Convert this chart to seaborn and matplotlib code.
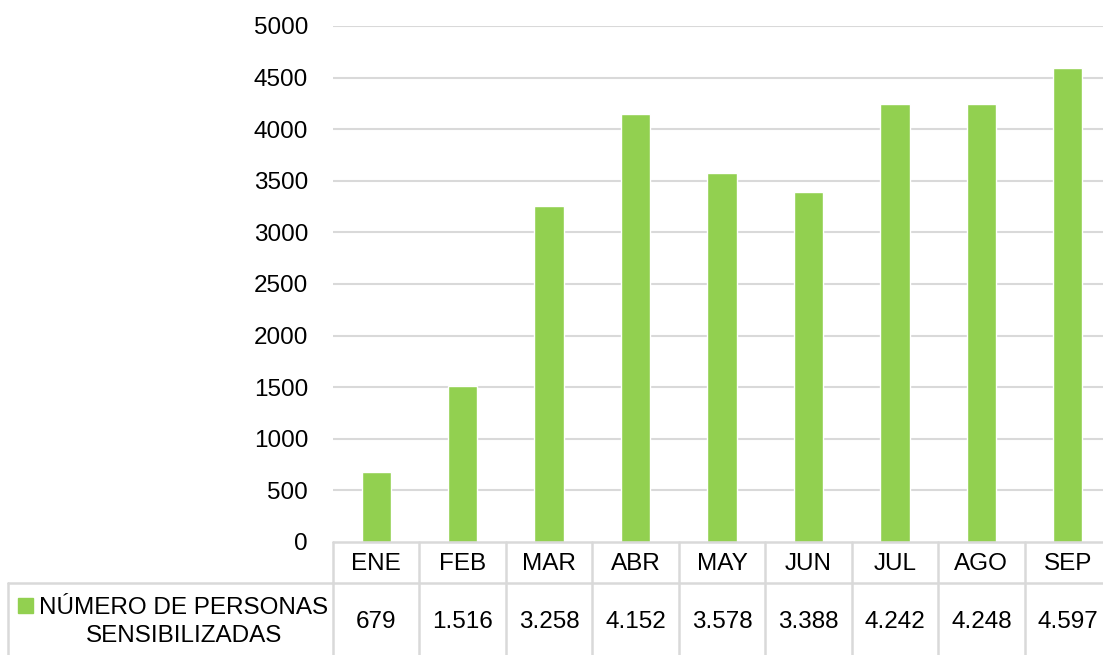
import matplotlib
matplotlib.use("Agg")
import matplotlib.pyplot as plt
import matplotlib.transforms as mtransforms
from matplotlib.lines import Line2D
from matplotlib.patches import Rectangle
import seaborn as sns
import pandas as pd

months = ["ENE", "FEB", "MAR", "ABR", "MAY", "JUN", "JUL", "AGO", "SEP"]
personas = [679, 1516, 3258, 4152, 3578, 3388, 4242, 4248, 4597]
value_labels = ["679", "1.516", "3.258", "4.152", "3.578", "3.388", "4.242", "4.248", "4.597"]
series_name = "NÚMERO DE PERSONAS\nSENSIBILIZADAS"
yticks = [0, 500, 1000, 1500, 2000, 2500, 3000, 3500, 4000, 4500, 5000]

green = "#92D050"
grid_col = "#D9D9D9"
fs = 17.5

sns.set_style("white")
plt.rcParams["font.family"] = ["Liberation Sans", "DejaVu Sans"]
plt.rcParams["text.color"] = "black"
plt.rcParams["ytick.color"] = "black"

df = pd.DataFrame({"mes": months, "valor": personas})

W, H = 1103, 655
fig = plt.figure(figsize=(W / 100, H / 100), dpi=100)
left, right, top, bottom = 333, 1111, 26, 542
ax = fig.add_axes([left / W, 1 - bottom / H, (right - left) / W, (bottom - top) / H])

sns.barplot(data=df, x="mes", y="valor", color=green, width=0.34, saturation=1, ax=ax)

ax.set_xlim(-0.5, len(months) - 0.5)
ax.set_ylim(0, 5000)
ax.set_yticks(yticks)
ax.set_yticklabels([str(t) for t in yticks], fontsize=fs)
ax.tick_params(axis="y", length=0, pad=18)
ax.set_xticks([])
ax.set_xlabel("")
ax.set_ylabel("")
for t in yticks[1:]:
    ax.axhline(t, color=grid_col, lw=1.5, zorder=0)
for s in ax.spines.values():
    s.set_visible(False)

# data table below the axis
px = (bottom - top)
row1 = -(583 - bottom) / px
row2 = -(H + 2 - bottom) / px
trans = mtransforms.blended_transform_factory(ax.transData, ax.transAxes)
lw = 1.8
kw = dict(color=grid_col, lw=lw, clip_on=False, transform=trans)
ax.add_line(Line2D([-0.5, 8.5], [0, 0], **kw))
ax.add_line(Line2D([-0.5, 8.5], [row1, row1], **kw))
for i in range(len(months) + 1):
    ax.add_line(Line2D([i - 0.5, i - 0.5], [0, row2], **kw))
head_y = -(564 - bottom) / px
val_y = -(622 - bottom) / px
for i, (m, v) in enumerate(zip(months, value_labels)):
    ax.text(i, head_y, m, transform=trans, ha="center", va="center", fontsize=fs)
    ax.text(i, val_y, v, transform=trans, ha="center", va="center", fontsize=fs)

# label cell on the left of the table
fig.add_artist(Line2D([8 / W, left / W], [1 - 583 / H, 1 - 583 / H], color=grid_col, lw=lw))
fig.add_artist(Line2D([8 / W, 8 / W], [1 - 583 / H, 0], color=grid_col, lw=lw))
fig.add_artist(Rectangle((18 / W, 1 - 613 / H), 15 / W, 15 / H, color=green))
fig.text(184 / W, 1 - 622 / H, series_name, ha="center", va="center", fontsize=fs,
         linespacing=1.4, multialignment="center")

fig.savefig("out.png", dpi=100)
